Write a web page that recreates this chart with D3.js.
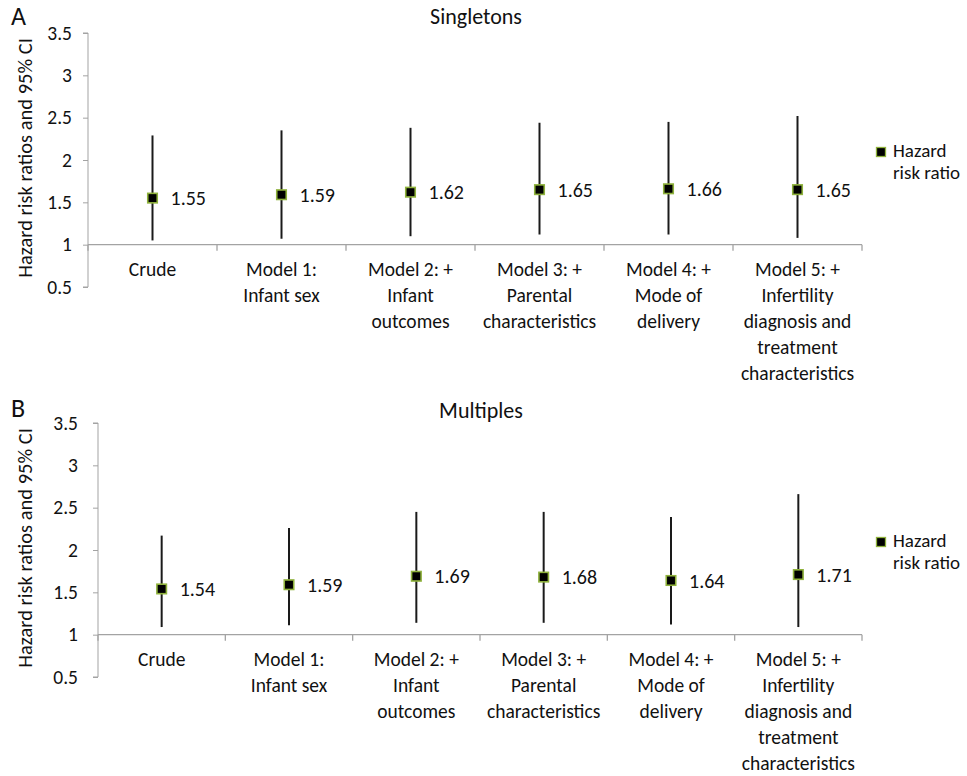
<!DOCTYPE html>
<html>
<head>
<meta charset="utf-8">
<script src="https://cdn.jsdelivr.net/npm/d3@7"></script>
<style>
  html, body { margin: 0; padding: 0; background: #fff; }
  svg text { font-family: Carlito, Lato, "Open Sans", sans-serif; fill: #111; }
</style>
</head>
<body>
<svg id="chart" width="967" height="776"></svg>
<script>
// Model labels (one array entry per wrapped line)
const models = [
  ["Crude"],
  ["Model 1:", "Infant sex"],
  ["Model 2: +", "Infant", "outcomes"],
  ["Model 3: +", "Parental", "characteristics"],
  ["Model 4: +", "Mode of", "delivery"],
  ["Model 5: +", "Infertility", "diagnosis and", "treatment", "characteristics"]
];

// Singletons: hazard ratio with 95% CI
const singletonHR    = [1.55, 1.59, 1.62, 1.65, 1.66, 1.65];
const singletonLower = [1.05, 1.07, 1.10, 1.12, 1.12, 1.08];
const singletonUpper = [2.29, 2.35, 2.38, 2.44, 2.45, 2.52];

// Multiples: hazard ratio with 95% CI
const multipleHR    = [1.54, 1.59, 1.69, 1.68, 1.64, 1.71];
const multipleLower = [1.09, 1.11, 1.14, 1.14, 1.12, 1.09];
const multipleUpper = [2.17, 2.26, 2.45, 2.45, 2.39, 2.66];

const yTicks = [0.5, 1, 1.5, 2, 2.5, 3, 3.5];
const legendLines = ["Hazard", "risk ratio"];

const svg = d3.select("#chart");
const axisColor = "#a3a3a3";
const markerGreen = "#8fb23c";
const fontStack = "Carlito, Lato, 'Open Sans', sans-serif";

function drawPanel(cfg) {
  const g = svg.append("g");
  const x = d3.scaleBand().domain(d3.range(models.length)).range([cfg.left, cfg.right]);
  const y = d3.scaleLinear().domain([0.5, 3.5]).range([cfg.bottom, cfg.top]);

  // panel letter and title
  g.append("text").attr("x", 11).attr("y", cfg.letterY)
    .attr("font-size", 26).text(cfg.letter);
  g.append("text").attr("x", cfg.titleX).attr("y", cfg.titleY)
    .attr("text-anchor", "middle").attr("font-size", 22).text(cfg.title);

  // y axis
  const yAxis = g.append("g").attr("transform", `translate(${cfg.left},0)`)
    .call(d3.axisLeft(y).tickValues(yTicks).tickSize(5).tickPadding(cfg.tickPad)
      .tickFormat(d3.format("")));
  yAxis.select(".domain").attr("stroke", axisColor).attr("d", `M-5,${cfg.bottom}H0V${cfg.top}H-5`);
  yAxis.selectAll(".tick line").attr("stroke", axisColor);
  yAxis.selectAll(".tick text").attr("font-size", 19.5).attr("fill", "#111")
    .attr("font-family", fontStack);

  // y axis title
  g.append("text")
    .attr("transform", `translate(32,${(cfg.top + cfg.bottom) / 2 - 2}) rotate(-90)`)
    .attr("text-anchor", "middle").attr("font-size", 20.5)
    .text("Hazard risk ratios and 95% CI");

  // category axis crossing at y = 1
  const y1 = y(1);
  g.append("line").attr("x1", cfg.left).attr("x2", cfg.right)
    .attr("y1", y1).attr("y2", y1).attr("stroke", axisColor).attr("stroke-width", 1.3);
  const bounds = d3.range(models.length + 1).map(i => i < models.length ? x(i) : cfg.right);
  g.selectAll(".xtick").data(bounds).join("line")
    .attr("x1", d => d).attr("x2", d => d)
    .attr("y1", y1).attr("y2", y1 + 6)
    .attr("stroke", axisColor).attr("stroke-width", 1.3);

  // category labels
  const labels = g.selectAll(".cat").data(models).join("text")
    .attr("text-anchor", "middle").attr("font-size", 19.5)
    .attr("transform", (d, i) => `translate(${x(i) + x.bandwidth() / 2},${y1 + 31})`);
  labels.selectAll("tspan").data(d => d).join("tspan")
    .attr("x", 0).attr("dy", (d, i) => i === 0 ? 0 : 26).text(d => d);

  // confidence intervals
  const cx = i => x(i) + x.bandwidth() / 2;
  g.selectAll(".ci").data(cfg.hr).join("line")
    .attr("x1", (d, i) => cx(i)).attr("x2", (d, i) => cx(i))
    .attr("y1", (d, i) => y(cfg.lower[i])).attr("y2", (d, i) => y(cfg.upper[i]))
    .attr("stroke", "#1a1a1a").attr("stroke-width", 2);

  // hazard ratio markers
  const s = 9.5;
  g.selectAll(".pt").data(cfg.hr).join("rect")
    .attr("x", (d, i) => cx(i) - s / 2).attr("y", d => y(d) - s / 2)
    .attr("width", s).attr("height", s)
    .attr("fill", "#000").attr("stroke", markerGreen).attr("stroke-width", 1.6);

  // value labels
  g.selectAll(".val").data(cfg.hr).join("text")
    .attr("x", (d, i) => cx(i) + 18).attr("y", d => y(d))
    .attr("dy", "0.36em").attr("font-size", 20)
    .text(d => d.toFixed(2));

  // legend
  const ly = (cfg.top + cfg.bottom) / 2 - 8;
  g.append("rect").attr("x", 876.5).attr("y", ly - 4.5).attr("width", 9).attr("height", 9)
    .attr("fill", "#000").attr("stroke", markerGreen).attr("stroke-width", 1.3);
  const lt = g.append("text").attr("x", 893).attr("y", ly + 5)
    .attr("font-size", 19);
  lt.selectAll("tspan").data(legendLines).join("tspan")
    .attr("x", 893).attr("dy", (d, i) => i === 0 ? 0 : 22).text(d => d);
}

drawPanel({
  letter: "A", letterY: 25, title: "Singletons", titleX: 476, titleY: 24,
  left: 88, right: 862, top: 33, bottom: 287, tickPad: 11,
  hr: singletonHR, lower: singletonLower, upper: singletonUpper
});

drawPanel({
  letter: "B", letterY: 417, title: "Multiples", titleX: 481, titleY: 418,
  left: 98, right: 862, top: 423, bottom: 677, tickPad: 15,
  hr: multipleHR, lower: multipleLower, upper: multipleUpper
});
</script>
</body>
</html>
